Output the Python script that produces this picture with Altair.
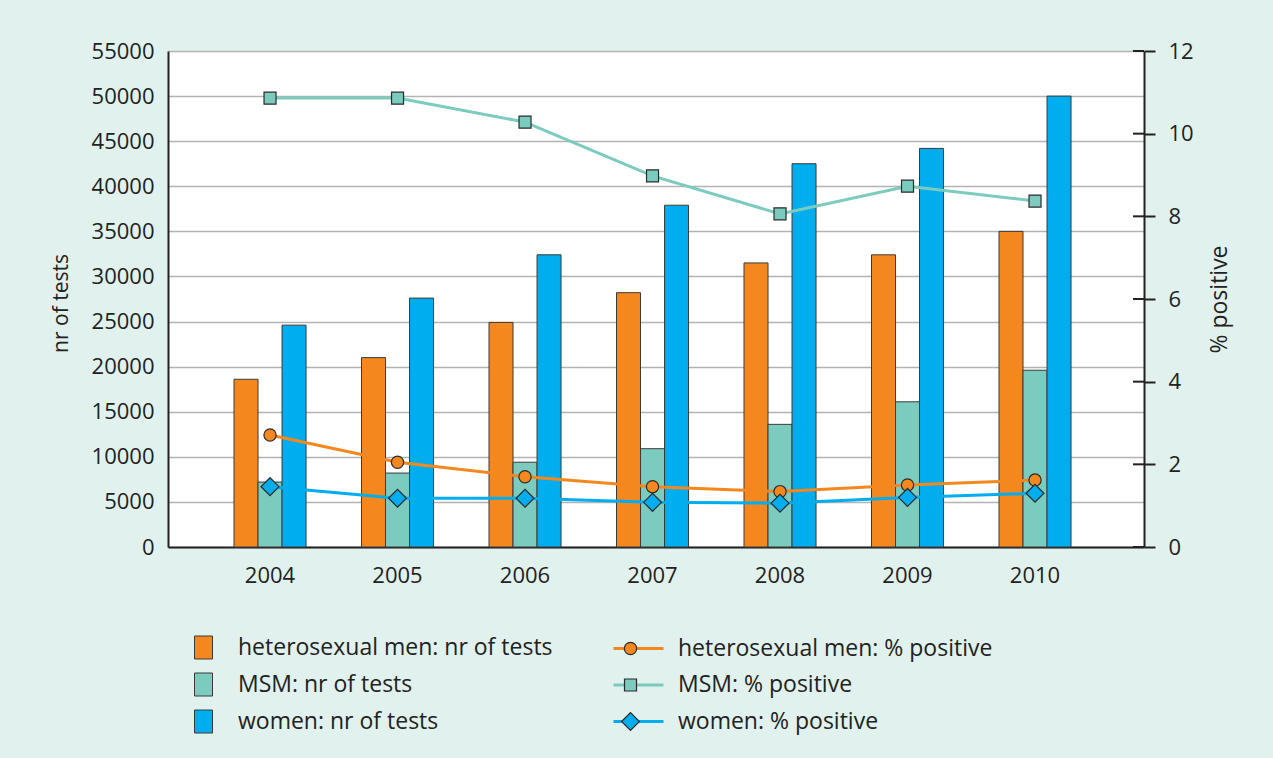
import altair as alt
import pandas as pd

# ---- data -------------------------------------------------------------
years = ["2004", "2005", "2006", "2007", "2008", "2009", "2010"]

bar_groups = ["heterosexual men: nr of tests", "MSM: nr of tests", "women: nr of tests"]
tests_het = [18600, 21000, 24900, 28200, 31500, 32400, 35000]
tests_msm = [7200, 8200, 9400, 10900, 13600, 16100, 19600]
tests_women = [24600, 27600, 32400, 37900, 42500, 44200, 50000]

line_groups = ["heterosexual men: % positive", "MSM: % positive", "women: % positive"]
marker_keys = ["het", "msm", "women"]  # keys for the marker layer (its legend shows glyphs only)
pos_het = [2.71, 2.05, 1.70, 1.46, 1.34, 1.50, 1.62]
pos_msm = [10.86, 10.86, 10.28, 8.98, 8.06, 8.73, 8.37]
pos_women = [1.46, 1.18, 1.18, 1.08, 1.06, 1.20, 1.30]

left_ticks = list(range(0, 55001, 5000))
right_ticks = [0, 2, 4, 6, 8, 10, 12]

# ---- styling ----------------------------------------------------------
FONT = "Open Sans"
INK = "#222222"
BG = "#e1f1ed"
bar_colors = ["#f5871f", "#7bcbbf", "#00adee"]
line_colors = ["#f5871f", "#7bcbbf", "#00adee"]
W, H = 976, 496
BAR_LEG_Y = 585
LINE_LEG_Y = 586
BAR_ROW_PAD = 10
LINE_ROW_PAD = 12.5

bars_df = pd.DataFrame(
    [
        {"year": y, "group": g, "tests": v}
        for g, vals in zip(bar_groups, [tests_het, tests_msm, tests_women])
        for y, v in zip(years, vals)
    ]
)
lines_df = pd.DataFrame(
    [
        {"year": y, "line_group": g, "marker": k, "pct": v}
        for g, k, vals in zip(line_groups, marker_keys, [pos_het, pos_msm, pos_women])
        for y, v in zip(years, vals)
    ]
)
rticks_df = pd.DataFrame({"pct": right_ticks})

x_enc = alt.X(
    "year:N",
    sort=years,
    title=None,
    scale=alt.Scale(paddingInner=0.435, paddingOuter=0.545, align=0.475),
    axis=alt.Axis(
        labelAngle=0,
        ticks=False,
        labelPadding=18,
        labelFontSize=22,
        labelFont=FONT,
        labelColor=INK,
        domainColor=INK,
        domainWidth=2,
        grid=False,
    ),
)

bars = (
    alt.Chart(bars_df)
    .mark_bar(stroke="#3a3a3a", strokeWidth=1)
    .encode(
        x=x_enc,
        xOffset=alt.XOffset("group:N", sort=bar_groups, scale=alt.Scale(paddingInner=0, paddingOuter=0)),
        y=alt.Y(
            "tests:Q",
            scale=alt.Scale(domain=[0, 55000], nice=False),
            axis=alt.Axis(
                values=left_ticks,
                format="d",
                title="nr of tests",
                titleFont=FONT,
                titleFontSize=21,
                titleFontWeight="normal",
                titleColor=INK,
                titleAngle=270,
                titleX=-97,
                titleY=252,
                ticks=False,
                labelPadding=14,
                labelFontSize=22,
                labelFont=FONT,
                labelColor=INK,
                domainColor=INK,
                domainWidth=2,
                grid=True,
                gridColor="#b3b3b3",
                gridWidth=1.6,
            ),
        ),
        color=alt.Color(
            "group:N",
            sort=bar_groups,
            scale=alt.Scale(domain=bar_groups, range=bar_colors),
            legend=alt.Legend(
                title=None,
                orient="none",
                legendX=24,
                legendY=BAR_LEG_Y,
                columns=1,
                padding=0,
                symbolType="M-0.9,-1.15H0.9V1.15H-0.9Z",
                symbolSize=400,
                symbolStrokeColor="#3a3a3a",
                symbolStrokeWidth=1,
                symbolOpacity=1,
                labelFont=FONT,
                labelFontSize=23,
                labelColor=INK,
                labelOffset=23,
                labelLimit=0,
                rowPadding=BAR_ROW_PAD,
            ),
        ),
    )
)

lines = (
    alt.Chart(lines_df)
    .mark_line(strokeWidth=3)
    .encode(
        x=x_enc,
        y=alt.Y(
            "pct:Q",
            scale=alt.Scale(domain=[0, 12], nice=False),
            axis=alt.Axis(
                orient="right",
                values=right_ticks,
                title="% positive",
                titleFont=FONT,
                titleFontSize=23,
                titleFontWeight="normal",
                titleColor=INK,
                titleAngle=270,
                titleX=87,
                titleY=248,
                tickSize=11,
                tickColor=INK,
                tickWidth=2,
                labelPadding=13,
                labelFontSize=22,
                labelFont=FONT,
                labelColor=INK,
                domainColor=INK,
                domainWidth=2,
                grid=False,
            ),
        ),
        stroke=alt.Stroke(
            "line_group:N",
            sort=line_groups,
            scale=alt.Scale(domain=line_groups, range=line_colors),
            legend=alt.Legend(
                title=None,
                orient="none",
                legendX=459,
                legendY=LINE_LEG_Y,
                columns=1,
                padding=0,
                symbolType="M-2.63,0H2.63",
                symbolSize=361,
                symbolStrokeWidth=3,
                labelFont=FONT,
                labelFontSize=23,
                labelColor=INK,
                labelOffset=28,
                labelLimit=0,
                rowPadding=LINE_ROW_PAD,
            ),
        ),
    )
)

points = (
    alt.Chart(lines_df)
    .mark_point(filled=True, opacity=1, stroke="#2b2b2b", strokeWidth=1.2)
    .encode(
        x=x_enc,
        y=alt.Y("pct:Q"),
        fill=alt.Fill(
            "marker:N",
            sort=marker_keys,
            scale=alt.Scale(domain=marker_keys, range=line_colors),
            legend=alt.Legend(
                title=None,
                orient="none",
                legendX=451,
                legendY=LINE_LEG_Y,
                columns=1,
                padding=0,
                symbolStrokeColor="#2b2b2b",
                symbolStrokeWidth=1.2,
                symbolOpacity=1,
                labelFont=FONT,
                labelFontSize=23,
                labelExpr="' '",
                labelOffset=28,
                labelLimit=0,
                rowPadding=LINE_ROW_PAD,
            ),
        ),
        shape=alt.Shape(
            "marker:N",
            sort=marker_keys,
            scale=alt.Scale(domain=marker_keys, range=["circle", "square", "diamond"]),
        ),
        size=alt.Size(
            "marker:N",
            sort=marker_keys,
            scale=alt.Scale(type="ordinal", domain=marker_keys, range=[150, 144, 320]),
        ),
    )
)

# short inner half of the right-axis ticks
inner_ticks = (
    alt.Chart(rticks_df)
    .mark_rule(color=INK, strokeWidth=2)
    .encode(y=alt.Y("pct:Q"), x=alt.value(W - 11), x2=alt.value(W))
)

chart = (
    alt.layer(bars, alt.layer(lines, points, inner_ticks))
    .resolve_scale(y="independent")
    .properties(
        width=W,
        height=H,
        autosize=alt.AutoSizeParams(type="none"),
        padding={"left": 168, "top": 51, "right": 129, "bottom": 211},
        background=BG,
    )
    .configure_view(fill="white", stroke=None)
)

chart.save("out.html", embed_options={"renderer": "svg", "actions": False})
